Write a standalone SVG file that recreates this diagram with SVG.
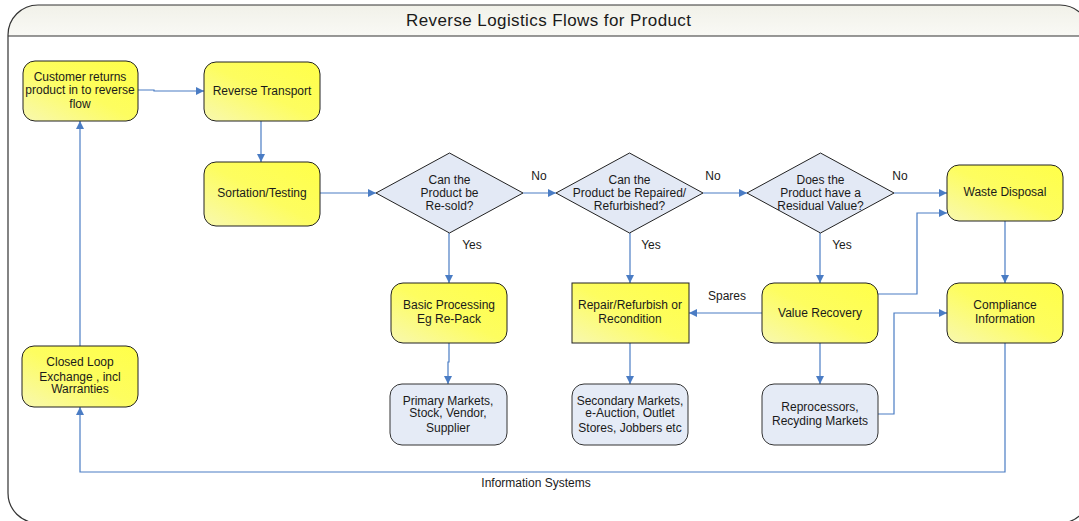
<svg xmlns="http://www.w3.org/2000/svg" width="1079" height="521" viewBox="0 0 1079 521">
<defs>
<linearGradient id="yel" x1="0" y1="1" x2="1" y2="0">
<stop offset="0" stop-color="#f8f8b0"/>
<stop offset="0.5" stop-color="#fdfd60"/>
<stop offset="1" stop-color="#ffff48"/>
</linearGradient>
<linearGradient id="band" x1="0" y1="0" x2="0" y2="1">
<stop offset="0" stop-color="#f1f1e9"/>
<stop offset="1" stop-color="#f9f9f5"/>
</linearGradient>
<clipPath id="fclip"><rect x="8" y="5" width="1082" height="518" rx="30" ry="30"/></clipPath>
<marker id="arr" viewBox="0 0 10 10" refX="10" refY="5" markerWidth="8" markerHeight="8" markerUnits="userSpaceOnUse" orient="auto">
<path d="M0,0 L10,5 L0,10 z" fill="#4a7cc4"/>
</marker>
<style>
.y{fill:url(#yel);stroke:#222;stroke-width:1}
.b{fill:#e5ebf6;stroke:#333;stroke-width:1}
.d{fill:#e3e9f5;stroke:#222;stroke-width:1}
text{font-family:"Liberation Sans",Arial,sans-serif;font-size:12px;fill:#1a1a1a;text-anchor:middle}
.c{fill:none;stroke:#4a7cc4;stroke-width:1.2}
.ca{fill:none;stroke:#4a7cc4;stroke-width:1.2;marker-end:url(#arr)}
</style>
</defs>
<rect width="1079" height="521" fill="#ffffff"/>
<g id="frame">
<rect x="8" y="5" width="1082" height="31" fill="url(#band)" clip-path="url(#fclip)"/>
<rect x="8" y="5" width="1082" height="518" rx="30" ry="30" fill="none" stroke="#333" stroke-width="1.2"/>
<line x1="8" y1="36" x2="1079" y2="36" stroke="#333" stroke-width="1.2"/>
<text x="548.5" y="26" style="font-size:17px" textLength="285" lengthAdjust="spacing">Reverse Logistics Flows for Product</text>
</g>
<g id="connectors">
<path class="ca" d="M138,90 L154,90 L154,91 L204,91"/>
<path class="ca" d="M261,121 L261,162"/>
<path class="ca" d="M320,193 L376,193"/>
<path class="ca" d="M523,193 L556,193"/>
<path class="ca" d="M703,193 L747,193"/>
<path class="ca" d="M894,193 L947,193"/>
<path class="ca" d="M449,233 L449,283"/>
<path class="ca" d="M630,233 L630,283"/>
<path class="ca" d="M820,233 L820,283"/>
<path class="ca" d="M762,313 L689,313"/>
<path class="ca" d="M878,294 L917,294 L917,213 L947,213"/>
<path class="ca" d="M1005,221 L1005,283"/>
<path class="ca" d="M878,414 L894,414 L894,313 L947,313"/>
<path class="ca" d="M820,343 L820,384"/>
<path class="ca" d="M449,343 L449,362 L448,362 L448,384"/>
<path class="ca" d="M630,343 L630,384"/>
<path class="ca" d="M1005,343 L1005,472 L80,472 L80,407"/>
<path class="ca" d="M80,346 L80,121"/>
<text x="539" y="180">No</text>
<text x="713" y="180">No</text>
<text x="900" y="180">No</text>
<text x="472" y="249">Yes</text>
<text x="651" y="249">Yes</text>
<text x="842" y="249">Yes</text>
<text x="727" y="300">Spares</text>
<text x="536" y="487">Information Systems</text>
</g>
<g id="customer">
<rect class="y" x="23" y="61" width="115" height="60" rx="12"/>
<text x="80" y="81">Customer returns</text>
<text x="80" y="94">product in to reverse</text>
<text x="80" y="108">flow</text>
</g>
<g id="reverse-transport">
<rect class="y" x="204" y="62" width="116" height="59" rx="12"/>
<text x="262" y="95">Reverse Transport</text>
</g>
<g id="sortation">
<rect class="y" x="204" y="162" width="116" height="64" rx="12"/>
<text x="262" y="197">Sortation/Testing</text>
</g>
<g id="resold">
<polygon class="d" points="376,193 449.5,153 523,193 449.5,233"/>
<text x="449.5" y="184">Can the</text>
<text x="449.5" y="197">Product be</text>
<text x="449.5" y="210">Re-sold?</text>
</g>
<g id="repaired">
<polygon class="d" points="556,193 629.5,153 703,193 629.5,233"/>
<text x="629.5" y="184">Can the</text>
<text x="629.5" y="197">Product be Repaired/</text>
<text x="629.5" y="210">Refurbished?</text>
</g>
<g id="residual">
<polygon class="d" points="747,193 820.5,153 894,193 820.5,233"/>
<text x="820.5" y="184">Does the</text>
<text x="820.5" y="197">Product have a</text>
<text x="820.5" y="210">Residual Value?</text>
</g>
<g id="waste">
<rect class="y" x="947" y="165" width="116" height="56" rx="12"/>
<text x="1005" y="196">Waste Disposal</text>
</g>
<g id="basic">
<rect class="y" x="391" y="283" width="116" height="60" rx="12"/>
<text x="449" y="309">Basic Processing</text>
<text x="449" y="323">Eg Re-Pack</text>
</g>
<g id="repair">
<rect class="y" x="572" y="283" width="117" height="60"/>
<text x="630" y="309">Repair/Refurbish or</text>
<text x="630" y="323">Recondition</text>
</g>
<g id="value">
<rect class="y" x="762" y="283" width="116" height="60" rx="12"/>
<text x="820" y="317">Value Recovery</text>
</g>
<g id="compliance">
<rect class="y" x="947" y="283" width="116" height="60" rx="12"/>
<text x="1005" y="309">Compliance</text>
<text x="1005" y="323">Information</text>
</g>
<g id="primary">
<rect class="b" x="390" y="384" width="117" height="61" rx="12"/>
<text x="448" y="405">Primary Markets,</text>
<text x="448" y="417">Stock, Vendor,</text>
<text x="448" y="432">Supplier</text>
</g>
<g id="secondary">
<rect class="b" x="572" y="384" width="116" height="61" rx="12"/>
<text x="630" y="405">Secondary Markets,</text>
<text x="630" y="417">e-Auction, Outlet</text>
<text x="630" y="432">Stores, Jobbers etc</text>
</g>
<g id="reprocessors">
<rect class="b" x="762" y="384" width="116" height="61" rx="12"/>
<text x="820" y="411">Reprocessors,</text>
<text x="820" y="425">Recyding Markets</text>
</g>
<g id="closed-loop">
<rect class="y" x="22" y="346" width="116" height="61" rx="12"/>
<text x="80" y="366">Closed Loop</text>
<text x="80" y="381">Exchange , incl</text>
<text x="80" y="393">Warranties</text>
</g>
</svg>
